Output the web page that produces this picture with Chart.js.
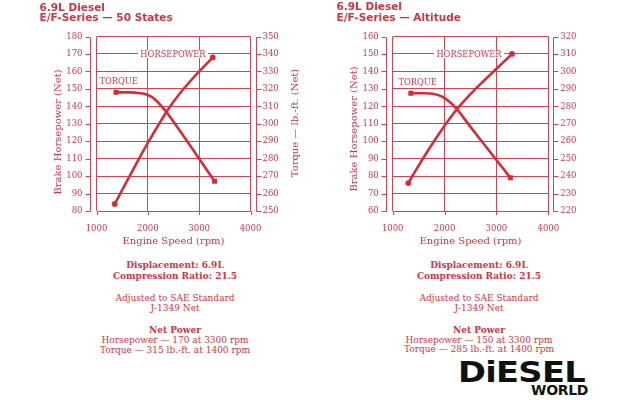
<!DOCTYPE html>
<html><head><meta charset="utf-8">
<script src="https://cdn.jsdelivr.net/npm/chart.js@4"></script>
<style>
html,body{margin:0;padding:0;background:#fff;}
#wrap{position:relative;width:643px;height:400px;overflow:hidden;background:#fff;}
canvas{position:absolute;top:0;}
.t{position:absolute;font-family:'DejaVu Sans',sans-serif;font-weight:bold;font-size:10.5px;color:#d03544;line-height:10px;white-space:nowrap;}
.b{position:absolute;width:220px;text-align:center;font-family:'DejaVu Serif',serif;font-size:9px;line-height:11px;color:#d03544;white-space:nowrap;}
.bb{font-weight:bold;}
.logo1{position:absolute;left:458px;top:355px;font-family:'DejaVu Sans',sans-serif;font-weight:bold;font-size:29px;line-height:34px;color:#111;transform:scale(1.16,1);transform-origin:left top;letter-spacing:-0.6px;}
.logo2{position:absolute;left:531px;top:380.5px;font-family:'DejaVu Sans',sans-serif;font-weight:bold;font-size:14px;line-height:18px;color:#111;letter-spacing:-0.3px;}
</style></head>
<body>
<div id="wrap">
<canvas id="c1" width="320" height="250" style="left:0"></canvas>
<canvas id="c2" width="323" height="250" style="left:320px"></canvas>

<div class="t" style="left:39.5px;top:1.7px">6.9L Diesel</div>
<div class="t" style="left:39.5px;top:11.7px">E/F-Series — 50 States</div>
<div class="t" style="left:336.5px;top:1.2px">6.9L Diesel</div>
<div class="t" style="left:336.5px;top:12.2px">E/F-Series — Altitude</div>

<div class="b bb" style="left:65px;top:259.5px">Displacement: 6.9L</div>
<div class="b bb" style="left:65px;top:271.2px">Compression Ratio: 21.5</div>
<div class="b" style="left:65px;top:292.8px">Adjusted to SAE Standard</div>
<div class="b" style="left:65px;top:302.8px">J-1349 Net</div>
<div class="b bb" style="left:65px;top:324.5px">Net Power</div>
<div class="b" style="left:65px;top:335.2px">Horsepower — 170 at 3300 rpm</div>
<div class="b" style="left:65px;top:344.5px">Torque — 315 lb.-ft. at 1400 rpm</div>

<div class="b bb" style="left:369px;top:259.5px">Displacement: 6.9L</div>
<div class="b bb" style="left:369px;top:270.5px">Compression Ratio: 21.5</div>
<div class="b" style="left:369px;top:292.8px">Adjusted to SAE Standard</div>
<div class="b" style="left:369px;top:302.5px">J-1349 Net</div>
<div class="b bb" style="left:369px;top:324.5px">Net Power</div>
<div class="b" style="left:369px;top:335.2px">Horsepower — 150 at 3300 rpm</div>
<div class="b" style="left:369px;top:344px">Torque — 285 lb.-ft. at 1400 rpm</div>

<div class="logo1">DiESEL</div>
<div class="logo2">WORLD</div>
</div>

<script>
// ---------- data: 50 States ----------
const rpmTicks50 = [1000, 2000, 3000, 4000];
const hpTicks50 = [80, 90, 100, 110, 120, 130, 140, 150, 160, 170, 180];
const tqTicks50 = [250, 260, 270, 280, 290, 300, 310, 320, 330, 340, 350];
const hpRpm50 = [1355, 1600, 1800, 2000, 2200, 2400, 2600, 2800, 3000, 3265];
const hp50    = [84, 97.5, 108.5, 119, 129, 138.5, 146.5, 153.5, 160, 168];
const tqRpm50 = [1380, 1650, 1850, 2000, 2120, 2340, 2600, 2800, 3000, 3300];
const tq50    = [318, 318, 317.5, 316.5, 314.5, 307.5, 297, 288.5, 280, 267];

// ---------- data: Altitude ----------
const rpmTicksAlt = [1000, 2000, 3000, 4000];
const hpTicksAlt = [60, 70, 80, 90, 100, 110, 120, 130, 140, 150, 160];
const tqTicksAlt = [220, 230, 240, 250, 260, 270, 280, 290, 300, 310, 320];
const hpRpmAlt = [1300, 1500, 1700, 1900, 2100, 2300, 2500, 2700, 3000, 3300];
const hpAlt    = [76, 86, 95.5, 104.5, 113, 120.5, 127, 133, 141.5, 150];
const tqRpmAlt = [1350, 1600, 1800, 1950, 2100, 2230, 2500, 2750, 3000, 3270];
const tqAlt    = [287.5, 287.5, 287, 285.5, 282.5, 278.7, 268.2, 258.7, 249.2, 239];

const RED = '#d42c38';
const GRID = '#d8414d';
const TEXT = '#d03544';
const SERIF = "'DejaVu Serif', serif";

const px = v => Math.round(v) + 0.5;

const decor = {
  id: 'decor',
  beforeDatasetsDraw(chart, args, o) {
    const {ctx, chartArea: a, scales} = chart;
    const y = scales.y, y1 = scales.y1, x = scales.x;
    ctx.save();
    ctx.strokeStyle = GRID;
    ctx.lineWidth = 1;
    ctx.beginPath();
    // left offset axis
    const lx = px(a.left - 7);
    ctx.moveTo(lx, px(y.getPixelForValue(y.max))); ctx.lineTo(lx, px(y.getPixelForValue(y.min)));
    y.ticks.forEach(t => { const p = px(y.getPixelForValue(t.value)); ctx.moveTo(lx - 5, p); ctx.lineTo(lx, p); });
    // right offset axis
    const rx = px(a.right + 5);
    ctx.moveTo(rx, px(y1.getPixelForValue(y1.max))); ctx.lineTo(rx, px(y1.getPixelForValue(y1.min)));
    y1.ticks.forEach(t => { const p = px(y1.getPixelForValue(t.value)); ctx.moveTo(rx, p); ctx.lineTo(rx + 5, p); });
    // x ticks below box
    x.ticks.forEach(t => { const p = px(x.getPixelForValue(t.value)); ctx.moveTo(p, a.bottom); ctx.lineTo(p, a.bottom + 4); });
    ctx.stroke();

    // series labels with white background
    ctx.font = '8.3px ' + SERIF;
    ctx.textBaseline = 'middle';
    ctx.textAlign = 'center';
    o.labels.forEach(l => {
      const cx = x.getPixelForValue(l.x), cy = y.getPixelForValue(l.y);
      const w = ctx.measureText(l.text).width;
      ctx.fillStyle = '#fff';
      ctx.fillRect(cx - w / 2 - 2.5, cy - 4, w + 5, 8);
      ctx.fillStyle = TEXT;
      ctx.fillText(l.text, cx, cy + 0.5);
    });

    // axis titles
    ctx.font = '10px ' + SERIF;
    ctx.fillStyle = TEXT;
    ctx.fillText(o.xTitle, (a.left + a.right) / 2, 241);
    ctx.save();
    ctx.translate(a.left - 38, o.leftTitleY);
    ctx.rotate(-Math.PI / 2);
    ctx.fillText(o.leftTitle, 0, 0);
    ctx.restore();
    if (o.rightTitle) {
      ctx.save();
      ctx.translate(a.right + 44.5, o.rightTitleY);
      ctx.rotate(-Math.PI / 2);
      ctx.fillText(o.rightTitle, 0, 0);
      ctx.restore();
    }
    ctx.restore();
  }
};

const ends = r => c => (c.dataIndex === 0 || c.dataIndex === c.dataset.data.length - 1) ? r : 0;
const tickFont = {family: SERIF, size: 8.5};

function makeChart(id, d) {
  return new Chart(document.getElementById(id), {
    type: 'line',
    data: {
      datasets: [
        {
          label: 'Horsepower',
          data: d.hpRpm.map((v, i) => ({x: v, y: d.hp[i]})),
          yAxisID: 'y',
          borderColor: RED, backgroundColor: RED, borderWidth: 2.6,
          pointStyle: 'circle', pointRadius: ends(2.9), pointHoverRadius: 0,
          pointBackgroundColor: RED, pointBorderWidth: 0,
          cubicInterpolationMode: 'monotone', fill: false
        },
        {
          label: 'Torque',
          data: d.tqRpm.map((v, i) => ({x: v, y: d.tq[i]})),
          yAxisID: 'y1',
          borderColor: RED, backgroundColor: RED, borderWidth: 2.6,
          pointStyle: 'rect', pointRadius: ends(3.5), pointHoverRadius: 0,
          pointBackgroundColor: RED, pointBorderWidth: 0,
          cubicInterpolationMode: 'monotone', fill: false
        }
      ]
    },
    options: {
      responsive: false, animation: false, events: [],
      layout: {padding: {top: 36.5, left: 0, right: 0, bottom: 0}},
      plugins: {legend: {display: false}, tooltip: {enabled: false}, decor: d.decor},
      scales: {
        x: {
          type: 'linear', min: d.xTicks[0], max: d.xTicks[d.xTicks.length - 1],
          afterBuildTicks: s => { s.ticks = d.xTicks.map(v => ({value: v})); },
          afterFit: s => { s.height = 39; },
          grid: {color: GRID, lineWidth: 1, drawTicks: false},
          border: {display: false},
          ticks: {color: TEXT, font: tickFont, padding: 13, maxRotation: 0, autoSkip: false, callback: v => String(v)}
        },
        y: {
          position: 'left', min: d.yTicks[0], max: d.yTicks[d.yTicks.length - 1],
          afterBuildTicks: s => { s.ticks = d.yTicks.map(v => ({value: v})); },
          afterFit: s => { s.width = d.leftW; },
          grid: {color: GRID, lineWidth: 1, drawTicks: false},
          border: {display: false},
          ticks: {color: TEXT, font: tickFont, padding: 14, autoSkip: false, callback: v => String(v)}
        },
        y1: {
          position: 'right', min: d.y1Ticks[0], max: d.y1Ticks[d.y1Ticks.length - 1],
          afterBuildTicks: s => { s.ticks = d.y1Ticks.map(v => ({value: v})); },
          afterFit: s => { s.width = d.rightW; },
          grid: {drawOnChartArea: false, drawTicks: false},
          border: {display: false},
          ticks: {color: TEXT, font: tickFont, padding: 12, autoSkip: false, callback: v => String(v)}
        }
      }
    },
    plugins: [decor]
  });
}

makeChart('c1', {
  hpRpm: hpRpm50, hp: hp50, tqRpm: tqRpm50, tq: tq50,
  xTicks: rpmTicks50, yTicks: hpTicks50, y1Ticks: tqTicks50,
  leftW: 96.5, rightW: 69.5,
  decor: {
    labels: [{text: 'HORSEPOWER', x: 2490, y: 170}, {text: 'TORQUE', x: 1432, y: 154.4}],
    xTitle: 'Engine Speed (rpm)',
    leftTitle: 'Brake Horsepower (Net)', leftTitleY: 132,
    rightTitle: 'Torque — lb.-ft. (Net)', rightTitleY: 123
  }
});

makeChart('c2', {
  hpRpm: hpRpmAlt, hp: hpAlt, tqRpm: tqRpmAlt, tq: tqAlt,
  xTicks: rpmTicksAlt, yTicks: hpTicksAlt, y1Ticks: tqTicksAlt,
  leftW: 72.7, rightW: 94.7,
  decor: {
    labels: [{text: 'HORSEPOWER', x: 2471, y: 150}, {text: 'TORQUE', x: 1482, y: 133.9}],
    xTitle: 'Engine Speed (rpm)',
    leftTitle: 'Brake Horsepower (Net)', leftTitleY: 129,
    rightTitle: null
  }
});
</script>
</body></html>
